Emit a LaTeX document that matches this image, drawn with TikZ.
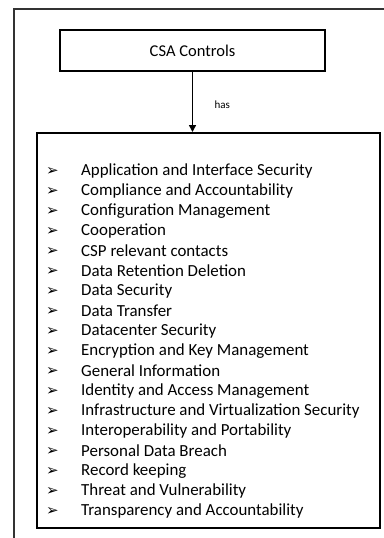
\documentclass[tikz,border=0pt]{standalone}
\usepackage{fontspec}
\setmainfont{Carlito}
\newfontfamily\symfont{DejaVu Sans}
\usetikzlibrary{arrows.meta}
\tikzset{
  box/.style={draw=black, line width=2pt},
  item/.style={anchor=west, inner sep=0pt, font=\fontsize{16.9}{18}\selectfont},
  bul/.style={anchor=west, inner sep=0pt, font=\symfont\fontsize{15}{16}\selectfont},
}
\begin{document}
\begin{tikzpicture}[x=1pt,y=-1pt]
\useasboundingbox (0,0) rectangle (383,538);
\draw[line width=1.5pt, black!80] (14,545) -- (14,9) -- (390,9);
\node[box, minimum width=265pt, minimum height=41pt, font=\fontsize{16.5}{18}\selectfont] (csa) at (192.5,50.5) {CSA Controls};
\node[box, minimum width=343pt, minimum height=395pt] (list) at (208.5,330.5) {};
\draw[line width=1.5pt, -{Triangle[length=7pt,width=7pt]}] (csa.south) -- (csa.south |- list.north);
\node[font=\fontsize{11}{12}\selectfont, anchor=west] (has) at (211,105) {has};
\foreach \t [count=\i] in {Application and Interface Security, Compliance and Accountability, Configuration Management, Cooperation, CSP relevant contacts, Data Retention Deletion, Data Security, Data Transfer, Datacenter Security, Encryption and Key Management, General Information, Identity and Access Management, Infrastructure and Virtualization Security, Interoperability and Portability, Personal Data Breach, Record keeping, Threat and Vulnerability, Transparency and Accountability}{
  \node[bul] (b\i) at (46,{171+(\i-1)*20}) {➢};
  \node[item] (t\i) at (81,{171+(\i-1)*20}) {\t};
}
\end{tikzpicture}
\end{document}
